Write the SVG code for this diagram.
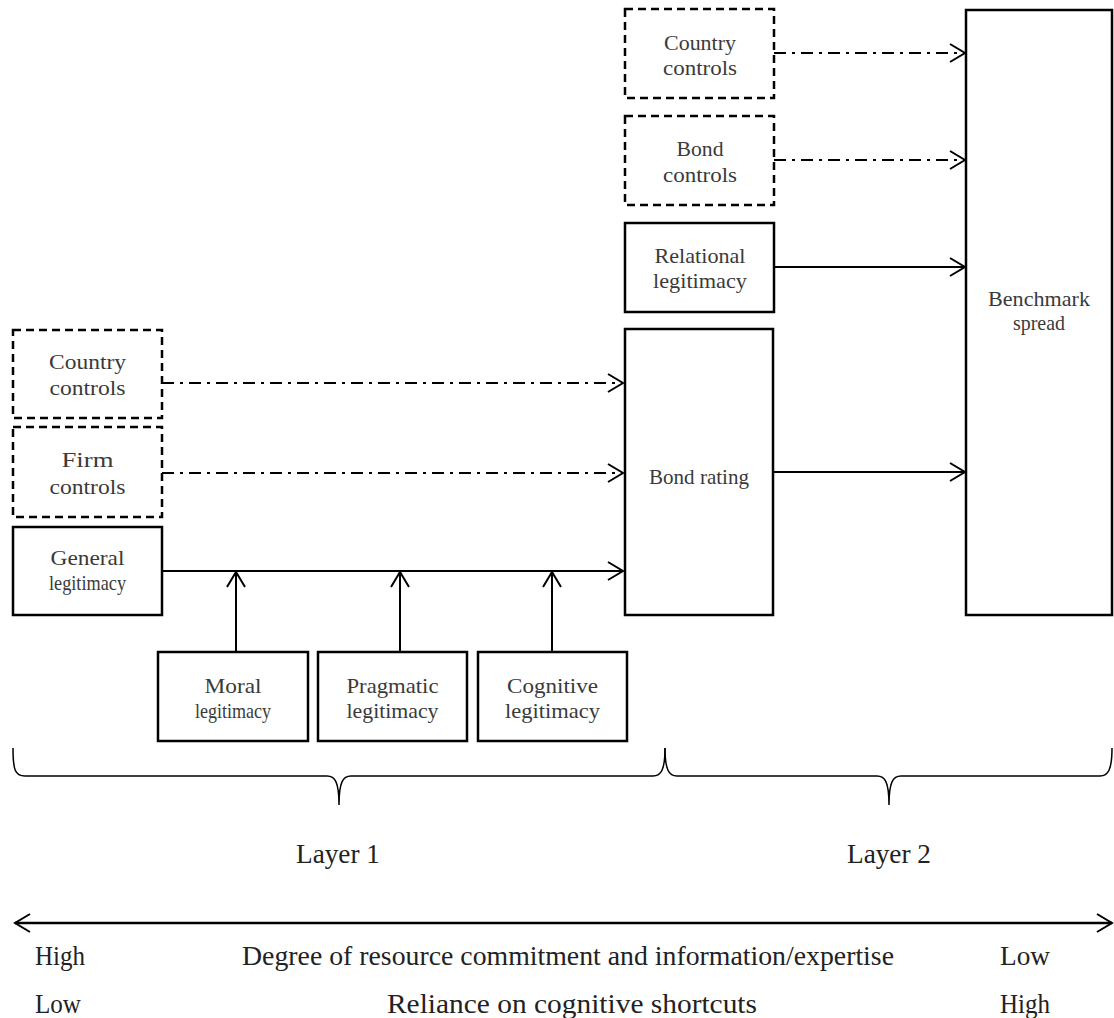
<svg xmlns="http://www.w3.org/2000/svg" width="1114" height="1018" viewBox="0 0 1114 1018">
<style>
  .box { fill: #fff; stroke: #000; stroke-width: 2.5; }
  .dbox { fill: #fff; stroke: #000; stroke-width: 2.5; stroke-dasharray: 8 5; }
  .lbl { font-family: "Liberation Serif", "Times New Roman", serif; font-size: 22px; fill: #3a3a3a; text-anchor: middle; }
  .big { font-family: "Liberation Serif", "Times New Roman", serif; font-size: 28px; fill: #222; }
  .solid { fill: none; stroke: #000; stroke-width: 2; marker-end: url(#arr); }
  .dd { fill: none; stroke: #000; stroke-width: 2; stroke-dasharray: 12 6 3 6; marker-end: url(#arr); }
  .brace { fill: none; stroke: #000; stroke-width: 1.5; }
</style>
<defs>
  <marker id="arr" markerUnits="userSpaceOnUse" viewBox="0 0 18 20" markerWidth="18" markerHeight="20" refX="16" refY="10" orient="auto-start-reverse">
    <path d="M1,1 L16,10 L1,19" fill="none" stroke="#000" stroke-width="2" stroke-dasharray="none"/>
  </marker>
</defs>
<rect width="1114" height="1018" fill="#fff"/>

<g id="connectors">
  <path class="dd" d="M162,383 H623"/>
  <path class="dd" d="M162,473 H623"/>
  <path class="solid" d="M162,571 H623"/>
  <path class="solid" d="M236,652 V572"/>
  <path class="solid" d="M400,652 V572"/>
  <path class="solid" d="M552,652 V572"/>
  <path class="dd" d="M774,53 H965"/>
  <path class="dd" d="M774,160 H965"/>
  <path class="solid" d="M774,267 H965"/>
  <path class="solid" d="M773,472 H965"/>
</g>

<g id="node-country-controls-1">
  <rect class="dbox" x="13" y="330" width="149" height="88"/>
  <text class="lbl" x="87.5" y="369" textLength="77" lengthAdjust="spacingAndGlyphs">Country</text>
  <text class="lbl" x="87.5" y="395" textLength="76" lengthAdjust="spacingAndGlyphs">controls</text>
</g>
<g id="node-firm-controls">
  <rect class="dbox" x="13" y="427" width="149" height="90"/>
  <text class="lbl" x="87.5" y="467" textLength="52" lengthAdjust="spacingAndGlyphs">Firm</text>
  <text class="lbl" x="87.5" y="494" textLength="76" lengthAdjust="spacingAndGlyphs">controls</text>
</g>
<g id="node-general-legitimacy">
  <rect class="box" x="13" y="527" width="149" height="88"/>
  <text class="lbl" x="87.5" y="565" textLength="74" lengthAdjust="spacingAndGlyphs">General</text>
  <text class="lbl" x="87.5" y="590" textLength="77" lengthAdjust="spacingAndGlyphs">legitimacy</text>
</g>
<g id="node-moral-legitimacy">
  <rect class="box" x="158" y="652" width="150" height="89"/>
  <text class="lbl" x="233" y="693" textLength="57" lengthAdjust="spacingAndGlyphs">Moral</text>
  <text class="lbl" x="233" y="718" textLength="76" lengthAdjust="spacingAndGlyphs">legitimacy</text>
</g>
<g id="node-pragmatic-legitimacy">
  <rect class="box" x="318" y="652" width="149" height="89"/>
  <text class="lbl" x="392.5" y="693" textLength="92" lengthAdjust="spacingAndGlyphs">Pragmatic</text>
  <text class="lbl" x="392.5" y="718" textLength="92" lengthAdjust="spacingAndGlyphs">legitimacy</text>
</g>
<g id="node-cognitive-legitimacy">
  <rect class="box" x="478" y="652" width="149" height="89"/>
  <text class="lbl" x="552.5" y="693" textLength="91" lengthAdjust="spacingAndGlyphs">Cognitive</text>
  <text class="lbl" x="552.5" y="718" textLength="95" lengthAdjust="spacingAndGlyphs">legitimacy</text>
</g>
<g id="node-bond-rating">
  <rect class="box" x="625" y="329" width="148" height="286"/>
  <text class="lbl" x="699" y="484" textLength="100" lengthAdjust="spacingAndGlyphs">Bond rating</text>
</g>
<g id="node-country-controls-2">
  <rect class="dbox" x="625" y="9" width="149" height="89"/>
  <text class="lbl" x="700" y="50" textLength="72" lengthAdjust="spacingAndGlyphs">Country</text>
  <text class="lbl" x="700" y="75" textLength="74" lengthAdjust="spacingAndGlyphs">controls</text>
</g>
<g id="node-bond-controls">
  <rect class="dbox" x="625" y="116" width="149" height="89"/>
  <text class="lbl" x="700" y="156" textLength="47" lengthAdjust="spacingAndGlyphs">Bond</text>
  <text class="lbl" x="700" y="182" textLength="74" lengthAdjust="spacingAndGlyphs">controls</text>
</g>
<g id="node-relational-legitimacy">
  <rect class="box" x="625" y="223" width="149" height="89"/>
  <text class="lbl" x="700" y="263" textLength="91" lengthAdjust="spacingAndGlyphs">Relational</text>
  <text class="lbl" x="700" y="288" textLength="94" lengthAdjust="spacingAndGlyphs">legitimacy</text>
</g>
<g id="node-benchmark-spread">
  <rect class="box" x="966" y="10" width="146" height="605"/>
  <text class="lbl" x="1039" y="306" textLength="102" lengthAdjust="spacingAndGlyphs">Benchmark</text>
  <text class="lbl" x="1039" y="330" textLength="52" lengthAdjust="spacingAndGlyphs">spread</text>
</g>

<g id="braces">
  <path class="brace" d="M13,748 C13,770 15,776 25,776 L327,776 C335,776 339,782 339,805 C339,782 343,776 351,776 L653,776 C661,776 665,770 665,748"/>
  <path class="brace" d="M665,748 C665,770 669,776 677,776 L877,776 C885,776 889,782 889,805 C889,782 893,776 901,776 L1100,776 C1108,776 1112,770 1112,748"/>
</g>
<g id="layer-labels">
  <text class="big" x="338" y="863" text-anchor="middle" font-size="26" textLength="84" lengthAdjust="spacingAndGlyphs">Layer 1</text>
  <text class="big" x="889" y="863" text-anchor="middle" font-size="26" textLength="84" lengthAdjust="spacingAndGlyphs">Layer 2</text>
</g>
<g id="scale">
  <path d="M15,923 H1112" fill="none" stroke="#000" stroke-width="2.5" marker-start="url(#arr)" marker-end="url(#arr)"/>
  <text class="big" x="35" y="965" textLength="50" lengthAdjust="spacingAndGlyphs">High</text>
  <text class="big" x="568" y="965" text-anchor="middle" textLength="652" lengthAdjust="spacingAndGlyphs">Degree of resource commitment and information/expertise</text>
  <text class="big" x="1000" y="965" textLength="50" lengthAdjust="spacingAndGlyphs">Low</text>
  <text class="big" x="35" y="1013" textLength="46" lengthAdjust="spacingAndGlyphs">Low</text>
  <text class="big" x="572" y="1013" text-anchor="middle" textLength="370" lengthAdjust="spacingAndGlyphs">Reliance on cognitive shortcuts</text>
  <text class="big" x="1000" y="1013" textLength="50" lengthAdjust="spacingAndGlyphs">High</text>
</g>
</svg>
